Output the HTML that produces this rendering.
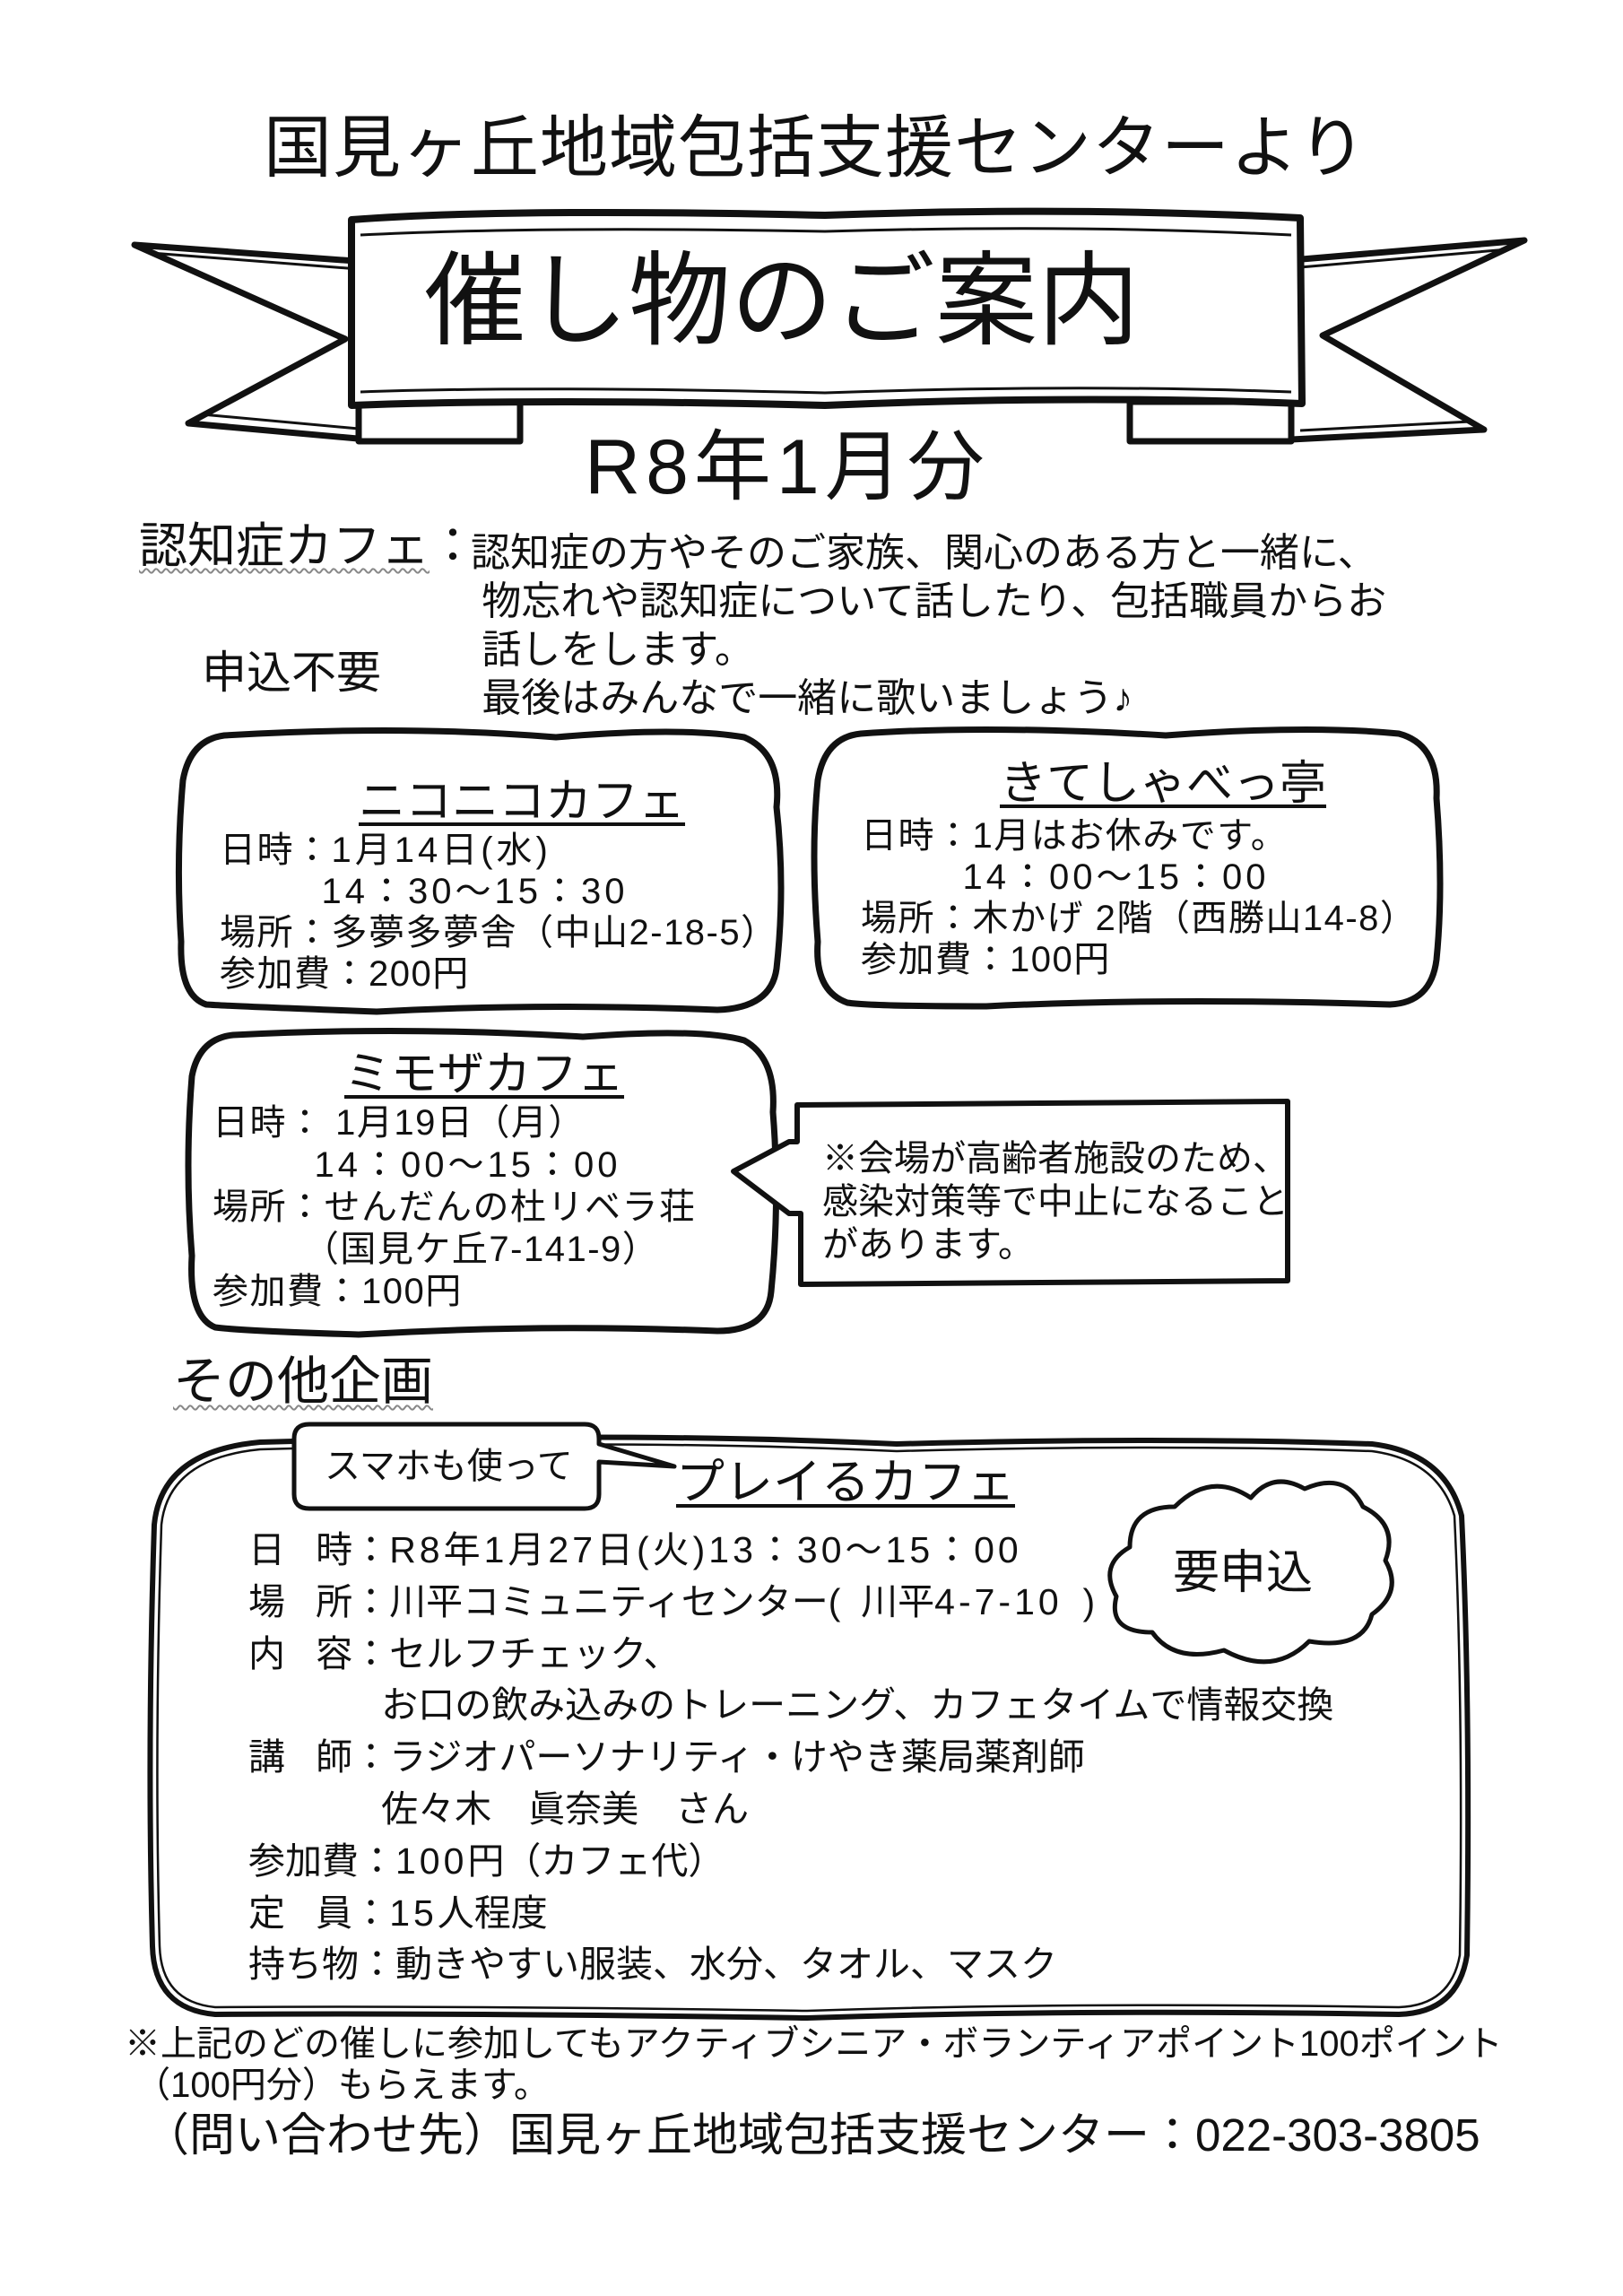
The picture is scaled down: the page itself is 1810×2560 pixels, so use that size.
<!DOCTYPE html>
<html><head><meta charset="utf-8">
<style>
html,body{margin:0;padding:0;background:#fff;}
body{width:1810px;height:2560px;position:relative;overflow:hidden;font-family:"Liberation Sans","Noto Sans CJK JP",sans-serif;color:#111;}
.t{position:absolute;white-space:nowrap;line-height:1;}
svg{position:absolute;left:0;top:0;}
.u{text-decoration:underline;text-decoration-thickness:4px;text-underline-offset:6px;}
.w{text-decoration:underline wavy #888;text-decoration-thickness:2px;text-underline-offset:6px;}
.d{letter-spacing:1.5px;}
.n{letter-spacing:4px;}
</style></head><body>
<svg width="1810" height="2560" viewBox="0 0 1810 2560">
<g fill="none" stroke="#111" stroke-linejoin="round">
 <path d="M150,273 L410,292 L410,490 L210,472 L385,378 Z" fill="#fff" stroke-width="7"/>
 <path d="M168,282 L400,300 M225,462 L400,478" stroke-width="3"/>
 <path d="M1700,268 L1440,290 L1440,490 L1655,479 L1475,374 Z" fill="#fff" stroke-width="7"/>
 <path d="M1682,278 L1450,298 M1640,470 L1450,480" stroke-width="3"/>
 <path d="M400,448 L580,448 L580,492 L400,492 Z" fill="#fff" stroke-width="7"/>
 <path d="M1260,448 L1440,448 L1440,492 L1260,492 Z" fill="#fff" stroke-width="7"/>
 <path d="M392,245 Q560,232 920,240 Q1200,230 1450,243 L1452,450 Q1200,440 920,452 Q600,444 392,452 Z" fill="#fff" stroke-width="8"/>
 <path d="M402,262 Q600,252 920,258 Q1200,250 1440,262" stroke-width="3"/>
 <path d="M402,437 Q600,430 920,438 Q1200,428 1440,437" stroke-width="3"/>
 <path d="M250,820 Q450,808 620,822 Q760,810 830,822 Q872,840 866,900 Q876,990 866,1080 Q860,1124 800,1126 Q600,1118 420,1128 Q260,1122 230,1120 Q200,1110 202,1050 Q196,960 204,870 Q212,825 250,820 Z" stroke-width="7"/>
 <path d="M960,818 Q1100,808 1300,820 Q1460,808 1560,818 Q1605,830 1602,890 Q1610,990 1602,1070 Q1596,1118 1550,1120 Q1300,1112 1100,1122 Q970,1122 945,1118 Q908,1105 912,1050 Q904,950 912,870 Q920,822 960,818 Z" stroke-width="7"/>
 <path d="M260,1154 Q450,1144 650,1156 Q780,1146 830,1160 Q866,1180 862,1240 Q870,1340 860,1440 Q856,1484 800,1484 Q600,1476 400,1488 Q270,1484 240,1480 Q210,1468 214,1400 Q206,1300 214,1200 Q222,1158 260,1154 Z" stroke-width="7"/>
 <path d="M889,1232 L1436,1228 L1436,1428 L893,1432 L893,1353 L880,1353 L818,1306 L880,1273 L889,1273 Z" fill="#fff" stroke-width="6"/>
 <path d="M290,1608 Q700,1596 1000,1610 Q1300,1602 1530,1610 Q1612,1620 1630,1690 Q1640,1900 1636,2180 Q1626,2244 1560,2246 Q1200,2240 900,2250 Q500,2244 240,2246 Q172,2240 170,2170 Q164,1950 172,1700 Q180,1618 290,1608 Z" stroke-width="6"/>
 <path d="M290,1616 Q700,1604 1000,1618 Q1300,1610 1530,1618 Q1604,1628 1622,1690 Q1632,1900 1628,2180 Q1618,2236 1560,2238 Q1200,2232 900,2242 Q500,2236 240,2238 Q180,2232 178,2170 Q172,1950 180,1700 Q188,1626 290,1616 Z" stroke-width="2.5"/>
 <path d="M345,1588 L652,1588 Q668,1588 668,1604 L668,1610 L752,1635 L668,1630 L668,1666 Q668,1682 652,1682 L345,1682 Q328,1682 328,1666 L328,1604 Q328,1588 345,1588 Z" fill="#fff" stroke-width="5"/>
 <path d="M1310,1680 Q1350,1640 1395,1670 Q1420,1640 1455,1660 Q1500,1640 1520,1680 Q1560,1700 1545,1740 Q1565,1775 1530,1800 Q1520,1840 1460,1830 Q1420,1870 1365,1840 Q1310,1855 1285,1820 Q1235,1820 1245,1780 Q1225,1745 1260,1725 Q1260,1680 1310,1680 Z" fill="#fff" stroke-width="5"/>
</g>
</svg>

<div class="t" style="left:294px;top:128px;font-size:76px;letter-spacing:1px;">国見ヶ丘地域包括支援センターより</div>
<div class="t" style="left:473px;top:280px;font-size:114px;">催し物のご案内</div>
<div class="t" style="left:652px;top:478px;font-size:86px;letter-spacing:6px;">R8年1月分</div>

<div class="t w" style="left:155px;top:582px;font-size:54px;">認知症カフェ</div>
<div class="t" style="left:478px;top:582px;font-size:54px;">：</div>
<div class="t" style="left:525px;top:590px;font-size:44px;line-height:54px;">認知症の方やそのご家族、関心のある方と一緒に、<br>&nbsp;物忘れや認知症について話したり、包括職員からお<br>&nbsp;話しをします。<br>&nbsp;最後はみんなで一緒に歌いましょう♪</div>
<div class="t" style="left:225px;top:725px;font-size:50px;">申込不要</div>

<div class="t u" style="left:400px;top:868px;font-size:52px;">ニコニコカフェ</div>
<div class="t d" style="left:245px;top:925px;font-size:40px;line-height:46px;">日時：<span class="n">1月14日(水)</span><br>&nbsp;&nbsp;&nbsp;&nbsp;&nbsp;&nbsp;&nbsp;&nbsp;&nbsp;<span class="n">14：30～15：30</span><br>場所：多夢多夢舎（中山2-18-5）<br>参加費：200円</div>

<div class="t u" style="left:1115px;top:848px;font-size:52px;">きてしゃべっ亭</div>
<div class="t d" style="left:960px;top:909px;font-size:40px;line-height:46px;">日時：1月はお休みです。<br>&nbsp;&nbsp;&nbsp;&nbsp;&nbsp;&nbsp;&nbsp;&nbsp;&nbsp;<span class="n">14：00～15：00</span><br>場所：木かげ 2階（西勝山14-8）<br>参加費：100円</div>

<div class="t u" style="left:384px;top:1172px;font-size:52px;">ミモザカフェ</div>
<div class="t d" style="left:237px;top:1229px;font-size:40px;line-height:47px;">日時： 1月19日（月）<br>&nbsp;&nbsp;&nbsp;&nbsp;&nbsp;&nbsp;&nbsp;&nbsp;&nbsp;<span class="n">14：00～15：00</span><br>場所：せんだんの杜リベラ荘<br>&nbsp;&nbsp;&nbsp;&nbsp;&nbsp;&nbsp;&nbsp;&nbsp;（国見ケ丘7-141-9）<br>参加費：100円</div>

<div class="t" style="left:917px;top:1268px;font-size:40px;line-height:48px;">※会場が高齢者施設のため、<br>感染対策等で中止になること<br>があります。</div>

<div class="t w" style="left:193px;top:1512px;font-size:58px;">その他企画</div>
<div class="t" style="left:362px;top:1615px;font-size:40px;">スマホも使って</div>
<div class="t u" style="left:754px;top:1626px;font-size:54px;">プレイるカフェ</div>
<div class="t" style="left:1308px;top:1728px;font-size:52px;">要申込</div>

<div class="t" style="left:277px;top:1700px;font-size:41px;line-height:57.8px;">日&nbsp;&nbsp;&nbsp;時：<span class="n">R8年1月27日(火)13：30～15：00</span><br>場&nbsp;&nbsp;&nbsp;所：川平コミュニティセンター(&nbsp;&nbsp;川平<span class="n">4-7-10</span>&nbsp;&nbsp;)<br>内&nbsp;&nbsp;&nbsp;容：セルフチェック、<br>&nbsp;&nbsp;&nbsp;&nbsp;&nbsp;&nbsp;&nbsp;&nbsp;&nbsp;&nbsp;&nbsp;&nbsp;&nbsp;お口の飲み込みのトレーニング、カフェタイムで情報交換<br>講&nbsp;&nbsp;&nbsp;師：ラジオパーソナリティ・けやき薬局薬剤師<br>&nbsp;&nbsp;&nbsp;&nbsp;&nbsp;&nbsp;&nbsp;&nbsp;&nbsp;&nbsp;&nbsp;&nbsp;&nbsp;佐々木　眞奈美　さん<br>参加費：<span class="n">100</span>円（カフェ代）<br>定&nbsp;&nbsp;&nbsp;員：<span class="n">15</span>人程度<br>持ち物：動きやすい服装、水分、タオル、マスク</div>

<div class="t" style="left:139px;top:2256px;font-size:40px;line-height:46px;">※上記のどの催しに参加してもアクティブシニア・ボランティアポイント100ポイント<br>&nbsp;（100円分）もらえます。</div>
<div class="t" style="left:160px;top:2355px;font-size:51px;">（問い合わせ先）国見ヶ丘地域包括支援センター：022-303-3805</div>
</body></html>
